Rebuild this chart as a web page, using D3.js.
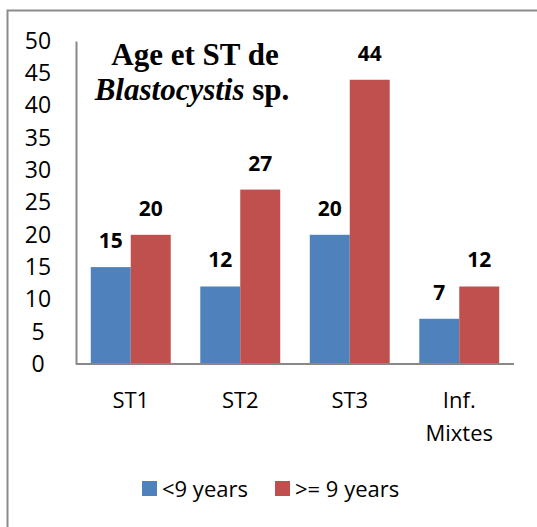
<!DOCTYPE html>
<html>
<head>
<meta charset="utf-8">
<script src="https://cdn.jsdelivr.net/npm/d3@7"></script>
<style>
  body { margin: 0; background: #fff; }
  svg { display: block; }
</style>
</head>
<body>
<script>
// Data.
const categories = ["ST1", "ST2", "ST3", "Inf. Mixtes"];
const seriesNames = ["<9 years", ">= 9 years"];
const under9 = [15, 12, 20, 7];
const over9 = [20, 27, 44, 12];
const yTicks = [0, 5, 10, 15, 20, 25, 30, 35, 40, 45, 50];
const colors = ["#4f81bd", "#c0504d"];

const width = 537;
const height = 527;
const margin = {top: 41, right: 23, bottom: 163, left: 76};

const svg = d3.select('body').append('svg')
    .attr('width', width)
    .attr('height', height);

// outer frame (runs off the right and bottom)
svg.append('rect')
    .attr('x', 7.5)
    .attr('y', 10.5)
    .attr('width', width + 10)
    .attr('height', height + 10)
    .attr('fill', 'none')
    .attr('stroke', '#8c8c8c')
    .attr('stroke-width', 2);

const x = d3.scaleBand()
    .domain(categories)
    .range([margin.left, width - margin.right])
    .paddingInner(0.27)
    .paddingOuter(0.135);

const xs = d3.scaleBand()
    .domain(seriesNames)
    .range([0, x.bandwidth()]);

const y = d3.scaleLinear()
    .domain([0, 50])
    .range([height - margin.bottom, margin.top]);

const rows = categories.map((c, i) => ({cat: c, values: [under9[i], over9[i]]}));

const groups = svg.selectAll('g.cat')
    .data(rows)
    .join('g')
    .attr('class', 'cat')
    .attr('transform', d => `translate(${x(d.cat)},0)`);

groups.selectAll('rect')
    .data(d => d.values.map((v, j) => ({key: seriesNames[j], v, j})))
    .join('rect')
    .attr('x', d => xs(d.key))
    .attr('y', d => y(d.v))
    .attr('width', xs.bandwidth())
    .attr('height', d => y(0) - y(d.v))
    .attr('fill', d => colors[d.j]);

// value labels
groups.selectAll('text')
    .data(d => d.values.map((v, j) => ({key: seriesNames[j], v, j})))
    .join('text')
    .attr('x', d => xs(d.key) + xs.bandwidth() / 2)
    .attr('y', d => y(d.v) - 19)
    .attr('text-anchor', 'middle')
    .style('font-family', '"Open Sans", sans-serif')
    .style('font-weight', 'bold')
    .style('font-size', '21px')
    .text(d => d.v);

// Left axis
const yAxis = svg.append('g')
    .attr('transform', `translate(${margin.left},0)`)
    .call(d3.axisLeft(y).tickValues(yTicks).tickSize(0).tickPadding(8));
yAxis.select('.domain').attr('stroke', '#888').attr('stroke-width', 2);
yAxis.selectAll('text')
    .attr('x', -38)
    .attr('text-anchor', 'middle')
    .style('font-family', '"Open Sans", sans-serif')
    .style('font-size', '23px')
    .attr('fill', '#000');

// Bottom axis
const xAxis = svg.append('g')
    .attr('transform', `translate(0,${height - margin.bottom})`)
    .call(d3.axisBottom(x).tickSize(0).tickPadding(0).tickSizeOuter(0));
xAxis.select('.domain')
    .attr('d', `M${margin.left},0H${width - margin.right}`)
    .attr('stroke', '#888').attr('stroke-width', 2);
xAxis.selectAll('.tick text').each(function(d) {
    const t = d3.select(this).text('');
    const words = d === "Inf. Mixtes" ? ["Inf.", "Mixtes"] : [d];
    words.forEach((w, i) => {
        t.append('tspan')
            .attr('x', 0)
            .attr('y', 44 + i * 33)
            .text(w);
    });
});
xAxis.selectAll('.tick text')
    .attr('dy', 0)
    .style('font-family', '"Open Sans", sans-serif')
    .style('font-size', '22px')
    .attr('fill', '#000');

// Title
const title = svg.append('text')
    .attr('text-anchor', 'middle')
    .style('font-family', '"Liberation Serif", "Times New Roman", serif')
    .style('font-weight', 'bold')
    .style('font-size', '31px');
title.append('tspan').attr('x', 195).attr('y', 65).text('Age et ST de');
const l2 = title.append('tspan').attr('x', 192).attr('y', 100);
l2.append('tspan').style('font-style', 'italic').text('Blastocystis');
l2.append('tspan').text(' sp.');

// Legend
const legend = svg.append('g')
    .attr('transform', 'translate(142,481)');
const items = legend.selectAll('g')
    .data(seriesNames)
    .join('g')
    .attr('transform', (d, i) => `translate(${i * 133},0)`);
items.append('rect')
    .attr('width', 15)
    .attr('height', 15)
    .attr('fill', (d, i) => colors[i]);
items.append('text')
    .attr('x', 20)
    .attr('y', 16)
    .style('font-family', '"Open Sans", sans-serif')
    .style('font-size', '22px')
    .text(d => d);
</script>
</body>
</html>
